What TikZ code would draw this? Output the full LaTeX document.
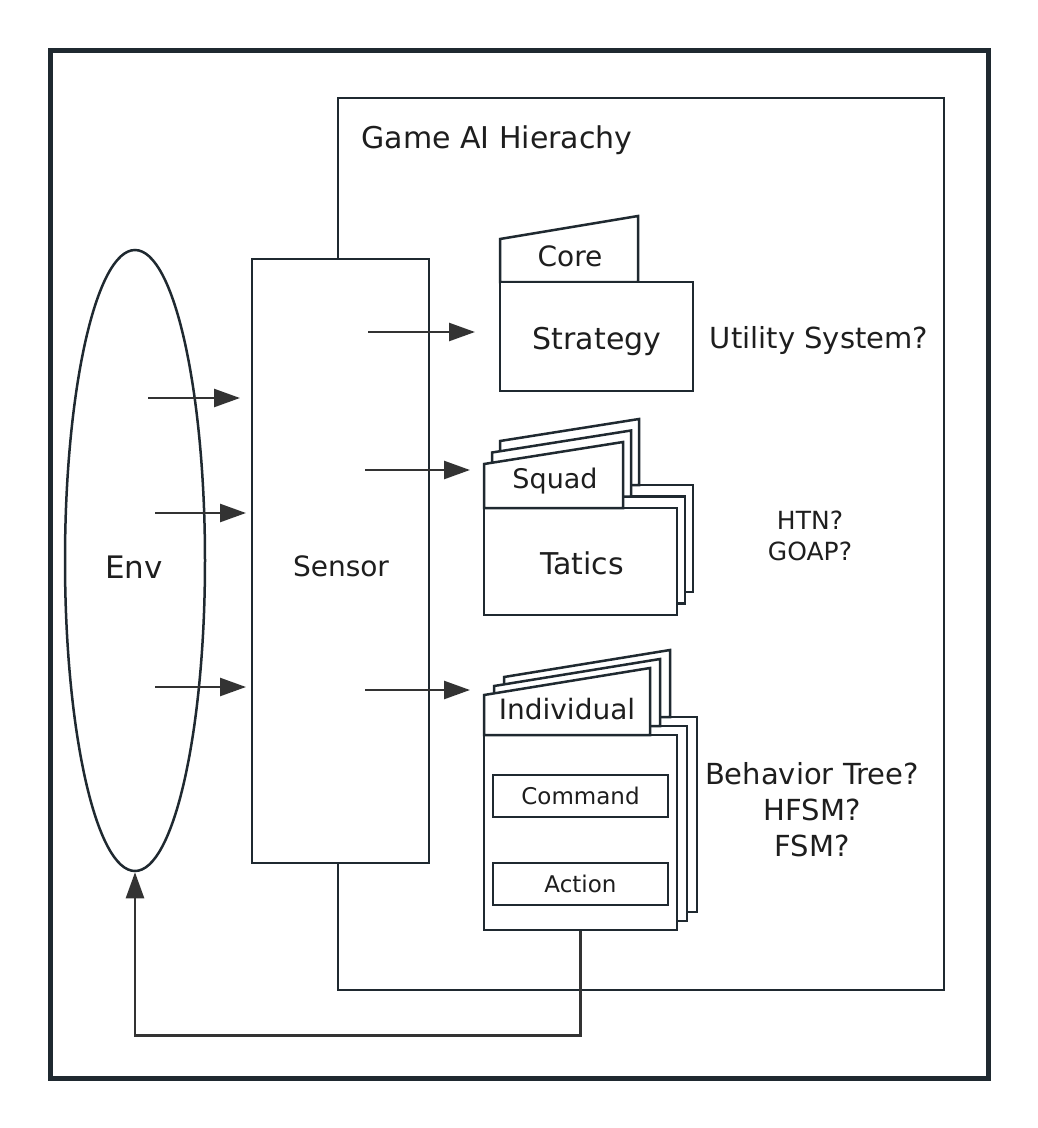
\documentclass[tikz,border=0pt]{standalone}
\usepackage{fontspec}
\setmainfont{DejaVu Sans}
\usetikzlibrary{arrows.meta,shapes.geometric}
\definecolor{ink}{HTML}{1F2930}
\definecolor{arrowgray}{HTML}{333333}
\definecolor{txt}{HTML}{1E1E1E}

\begin{document}
\begin{tikzpicture}[x=1pt,y=-1pt,
    sheet/.style={draw=ink,fill=white,line width=2.5pt},
    flow/.style={arrowgray,line width=2.5pt,-{Triangle[length=26pt,width=18pt]}},
    lbl/.style={text=txt,font=\fontsize{29}{36}\selectfont,align=center},
    tablbl/.style={text=txt,font=\fontsize{28}{34}\selectfont},
    note/.style={text=txt,font=\fontsize{25}{31}\selectfont,align=center},
    inbox/.style={text=txt,font=\fontsize{23}{28}\selectfont}]

    \useasboundingbox (0,0) rectangle (1038,1128);
    \draw[ink,line width=5pt] (50,50) rectangle (988,1078);

    \draw[ink,line width=2.5pt] (338,98) rectangle (944,990);
    \node[lbl,font=\fontsize{30}{36}\selectfont,anchor=west] (title) at (358,140){Game AI Hierachy};

    \node[sheet,minimum width=177pt,minimum height=604pt] (sensor) at (340.5,561){};
    \node[tablbl] (sensorlbl) at (341,566){Sensor};

    \node[draw=ink,line width=2.5pt,ellipse,minimum width=140pt,minimum height=621pt,inner sep=0pt] (env) at (135,560.5){};
    \node[lbl,font=\fontsize{31}{36}\selectfont] (envlbl) at (134,567){Env};

    \coordinate (in1) at (148,398); \coordinate (in1e) at (240,398);
    \coordinate (in2) at (155,513); \coordinate (in2e) at (246,513);
    \coordinate (in3) at (155,687); \coordinate (in3e) at (246,687);
    \coordinate (out1) at (368,332); \coordinate (out1e) at (475,332);
    \coordinate (out2) at (365,470); \coordinate (out2e) at (470,470);
    \coordinate (out3) at (365,690); \coordinate (out3e) at (470,690);
    \draw[flow] (in1)--(in1e);
    \draw[flow] (in2)--(in2e);
    \draw[flow] (in3)--(in3e);
    \draw[flow] (out1)--(out1e);
    \draw[flow] (out2)--(out2e);
    \draw[flow] (out3)--(out3e);

    \draw[sheet] (500,282) -- (500,239) -- (638,216) -- (638,282) -- cycle;
    \node[sheet,minimum width=193pt,minimum height=109pt] (strat) at (596.5,336.5){};
    \node[tablbl] (core) at (570,256){Core};
    \node[lbl,font=\fontsize{30}{36}\selectfont] (stratlbl) at (597,341){Strategy};
    \node[lbl] (util) at (819,340){Utility System?};

    \foreach \k in {2,1}{
        \draw[sheet,shift={(\k*8,-\k*11.5)}] (484,508) rectangle (677,615);
        \draw[sheet,shift={(\k*8,-\k*11.5)}] (484,508) -- (484,464) -- (623,442) -- (623,508) -- cycle;
    }
    \node[sheet,minimum width=193pt,minimum height=107pt] (tat) at (580.5,561.5){};
    \draw[sheet] (484,508) -- (484,464) -- (623,442) -- (623,508) -- cycle;
    \node[tablbl,font=\fontsize{27}{34}\selectfont] (squad) at (555,481){Squad};
    \node[lbl,font=\fontsize{30}{36}\selectfont] (tatlbl) at (582,563){Tatics};
    \node[note] (plan) at (810,536){HTN?\\GOAP?};

    \foreach \k in {2,1}{
        \draw[sheet,shift={(\k*10,-\k*9)}] (484,735) rectangle (677,930);
        \draw[sheet,shift={(\k*10,-\k*9)}] (484,735) -- (484,695) -- (650,668) -- (650,735) -- cycle;
    }
    \node[sheet,minimum width=193pt,minimum height=195pt] (ind) at (580.5,832.5){};
    \draw[sheet] (484,735) -- (484,695) -- (650,668) -- (650,735) -- cycle;
    \node[tablbl] (indlbl) at (567,709){Individual};
    \node[sheet,inbox,minimum width=175pt,minimum height=42pt] (cmd) at (580.5,796){Command};
    \node[sheet,inbox,minimum width=175pt,minimum height=42pt] (act) at (580.5,884){Action};
    \node[lbl] (bt) at (812,810){Behavior Tree?\\HFSM?\\FSM?};

    \draw[flow] (ind.south) -- ++(0,104) -| (env.south);

\end{tikzpicture}
\end{document}
